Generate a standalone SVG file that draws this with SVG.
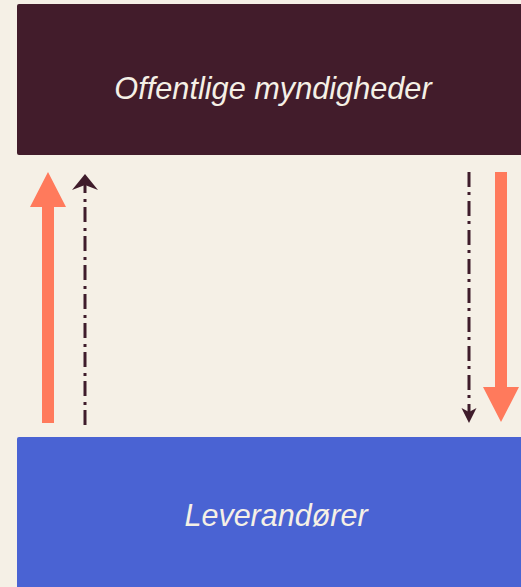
<svg xmlns="http://www.w3.org/2000/svg" width="521" height="587" viewBox="0 0 521 587">
<style>
.lbl{font-family:"Liberation Sans",Arial,sans-serif;font-style:italic;fill:#f5f0e6;text-anchor:middle}
.dd{stroke:#3f1c2b;stroke-width:3;fill:none;stroke-dasharray:15 5 3 6}
.big{fill:#ff7a5c}
.hd{fill:#3f1c2b}
</style>
<rect width="521" height="587" fill="#f5f0e6"/>
<g id="offentlige">
<rect x="17" y="4" width="514" height="151" rx="2" fill="#421c2b"/>
<text class="lbl" x="273" y="99" font-size="30.7">Offentlige myndigheder</text>
</g>
<g id="leverandorer">
<rect x="17" y="437" width="514" height="160" rx="2" fill="#4a63d3"/>
<text class="lbl" x="276" y="526" font-size="30.5">Leverandører</text>
</g>
<g id="connectors">
<path class="big" d="M42,423 V207 H30 L48,172 L66,207 H54 V423 Z"/>
<path class="dd" d="M85,425 V184"/>
<path class="hd" d="M85,174 L98,190 L85,185 L72,190 Z"/>
<path class="big" d="M495,172 V387 H483 L501,422 L519,387 H507 V172 Z"/>
<path class="dd" d="M469,172 V413"/>
<path class="hd" d="M469,423 L461.5,408 L469,412 L476.5,408 Z"/>
</g>
</svg>
